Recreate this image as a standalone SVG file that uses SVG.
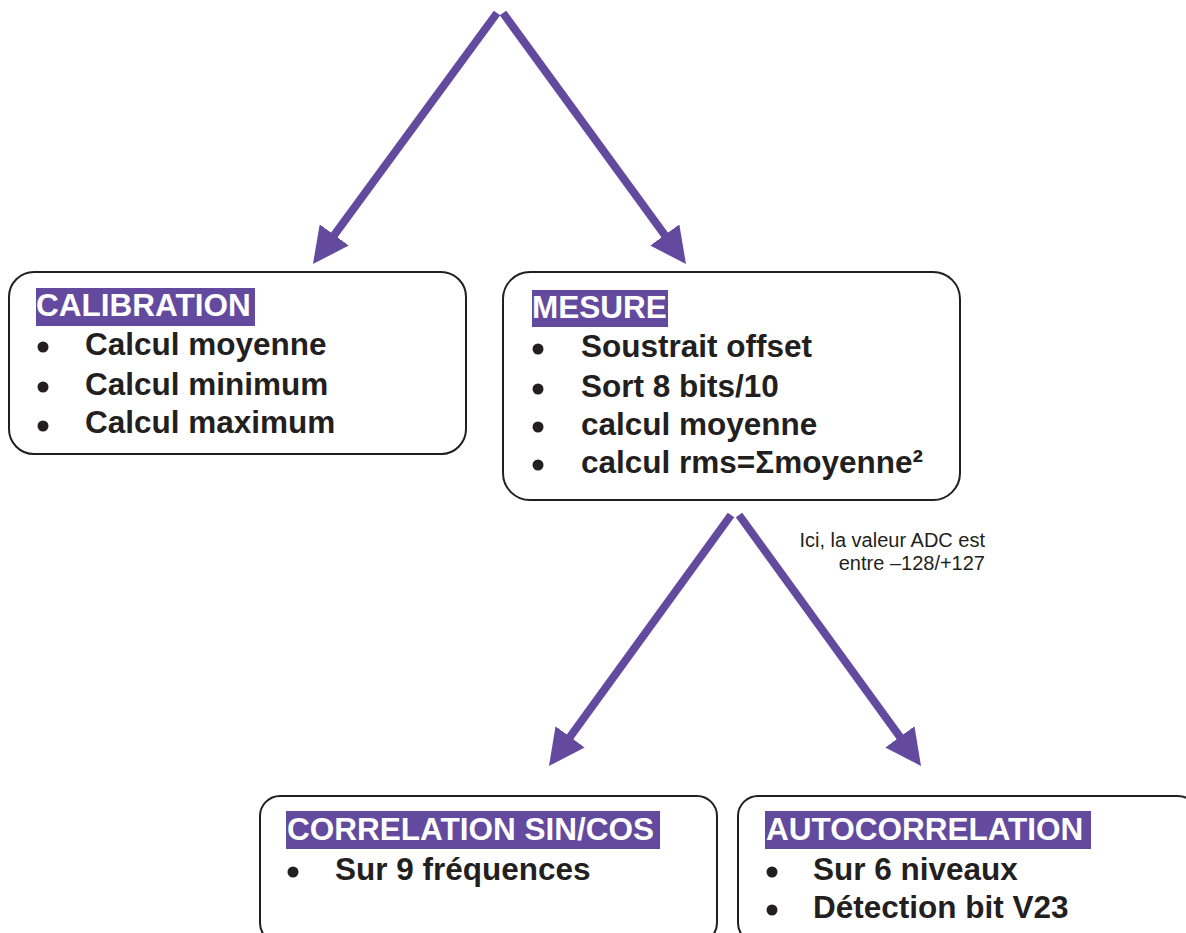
<svg xmlns="http://www.w3.org/2000/svg" width="1186" height="933" viewBox="0 0 1186 933">
  <style>
    .box { fill: #ffffff; stroke: #231f20; stroke-width: 2; }
    .hl { fill: #634a9e; }
    .title { font-family: "Liberation Sans", Arial, sans-serif; font-weight: bold; font-size: 31.5px; fill: #ffffff; }
    .item { font-family: "Liberation Sans", Arial, sans-serif; font-weight: bold; font-size: 31.5px; fill: #231f20; }
    .dot { fill: #231f20; }
    .conn { stroke: #634a9e; stroke-width: 8; fill: none; marker-end: url(#ah); }
    .note { font-family: "Liberation Sans", Arial, sans-serif; font-size: 20px; fill: #231f20; text-anchor: end; }
  </style>
  <defs>
    <marker id="ah" markerUnits="userSpaceOnUse" markerWidth="36" markerHeight="36" refX="6" refY="18" orient="auto">
      <path d="M0,0 L36,18 L0,36 z" fill="#634a9e"/>
    </marker>
  </defs>
  <rect width="1186" height="933" fill="#ffffff"/>

  <g id="connectors">
    <line class="conn" x1="497" y1="13" x2="330.7" y2="239.8"/>
    <line class="conn" x1="503" y1="13" x2="668.3" y2="239.8"/>
    <line class="conn" x1="731" y1="515" x2="566.6" y2="741.7"/>
    <line class="conn" x1="739" y1="515" x2="903.4" y2="741.7"/>
  </g>

  <g id="calibration">
    <rect class="box" x="9" y="272" width="457" height="182" rx="25" ry="25"/>
    <rect class="hl" x="36" y="288" width="219" height="38"/>
    <text class="title" x="36" y="316">CALIBRATION</text>
    <circle class="dot" cx="43" cy="347" r="5.5"/>
    <text class="item" x="85" y="355">Calcul moyenne</text>
    <circle class="dot" cx="43" cy="387" r="5.5"/>
    <text class="item" x="85" y="395">Calcul minimum</text>
    <circle class="dot" cx="43" cy="426" r="5.5"/>
    <text class="item" x="85" y="433">Calcul maximum</text>
  </g>

  <g id="mesure">
    <rect class="box" x="503" y="272" width="457" height="228" rx="27" ry="27"/>
    <rect class="hl" x="532" y="290" width="136" height="37"/>
    <text class="title" x="532" y="318">MESURE</text>
    <circle class="dot" cx="538" cy="349" r="5.5"/>
    <text class="item" x="581" y="357">Soustrait offset</text>
    <circle class="dot" cx="538" cy="389" r="5.5"/>
    <text class="item" x="581" y="397">Sort 8 bits/10</text>
    <circle class="dot" cx="538" cy="427" r="5.5"/>
    <text class="item" x="581" y="435">calcul moyenne</text>
    <circle class="dot" cx="538" cy="465" r="5.5"/>
    <text class="item" x="581" y="473">calcul rms=Σmoyenne²</text>
  </g>

  <g id="note">
    <text class="note" x="985" y="547">Ici, la valeur ADC est</text>
    <text class="note" x="985" y="570">entre –128/+127</text>
  </g>

  <g id="correlation">
    <rect class="box" x="260" y="796" width="457" height="147" rx="20" ry="20"/>
    <rect class="hl" x="286" y="811" width="374" height="38"/>
    <text class="title" x="287" y="840">CORRELATION SIN/COS</text>
    <circle class="dot" cx="293" cy="872" r="5.5"/>
    <text class="item" x="335" y="880">Sur 9 fréquences</text>
  </g>

  <g id="autocorrelation">
    <rect class="box" x="738" y="796" width="460" height="147" rx="20" ry="20"/>
    <rect class="hl" x="765" y="811" width="326" height="38"/>
    <text class="title" x="766" y="840">AUTOCORRELATION</text>
    <circle class="dot" cx="772" cy="872" r="5.5"/>
    <text class="item" x="813" y="880">Sur 6 niveaux</text>
    <circle class="dot" cx="772" cy="910" r="5.5"/>
    <text class="item" x="813" y="918">Détection bit V23</text>
  </g>
</svg>
